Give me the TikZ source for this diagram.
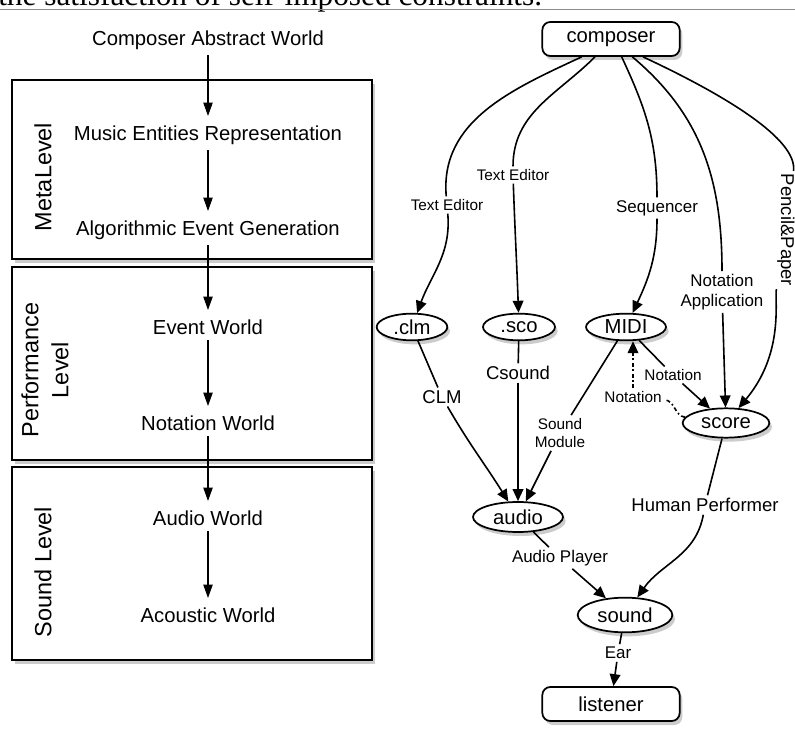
\documentclass[tikz,border=0pt]{standalone}
\usepackage{fontspec}
\setmainfont{Liberation Sans}
\newfontfamily\pagefont{Liberation Serif}
\usetikzlibrary{arrows.meta,shapes.geometric,shadows}

\tikzset{
  softshadow/.style={drop shadow={shadow xshift=2pt,shadow yshift=-3pt,opacity=.4}},
  world/.style={font=\fontsize{15.2}{18}\selectfont,inner xsep=0pt,inner ysep=4pt},
  flow/.style={line width=0.8pt,shorten >=3pt,-{Triangle[width=7pt,length=10pt]}},
  levelbox/.style={line width=1.5pt,fill=white,softshadow},
  levellabel/.style={font=\fontsize{17.6}{22.5}\selectfont,rotate=90,align=center},
  term/.style={draw,line width=1.3pt,rounded corners=6pt,fill=white,minimum width=103pt,
    minimum height=25.5pt,font=\fontsize{15.2}{18}\selectfont,softshadow},
  state/.style={ellipse,draw,line width=1.3pt,fill=white,inner sep=0.5pt,minimum height=20pt,
    font=\fontsize{15.2}{18}\selectfont,softshadow},
  lblS/.style={font=\fontsize{11.5}{14}\selectfont,inner sep=2pt,align=center},
  lblM/.style={font=\fontsize{12.7}{15}\selectfont,inner sep=2pt,align=center},
  lblL/.style={font=\fontsize{13.9}{16.5}\selectfont,inner sep=2pt,align=center},
  link/.style={line width=1.2pt},
  linkto/.style={link,-{Triangle[width=8pt,length=9pt]}}
}

\begin{document}
\begin{tikzpicture}[x=0.75pt,y=-0.75pt]
  \useasboundingbox (0,0) rectangle (795,737);
  \node[anchor=base west,inner sep=0pt,font=\pagefont\fontsize{23.5}{28}\selectfont] (pagetext) at (-2,6)
    {the satisfaction of self-imposed constraints.};
  \draw[black!45,line width=0.8pt] (0,9.5)--(795,9.5);

  \draw[levelbox] (12,80) rectangle (372,259);
  \draw[levelbox] (12,267) rectangle (372,460);
  \draw[levelbox] (12,467) rectangle (372,660);
  \node[levellabel] (meta) at (43,177) {MetaLevel};
  \node[levellabel] (perf) at (45,370) {Performance\\Level};
  \node[levellabel] (soundlvl) at (43,572) {Sound Level};

  \node[world] (caw) at (208,40) {Composer Abstract World};
  \node[world] (mer) at (208,135) {Music Entities Representation};
  \node[world] (aeg) at (208,230) {Algorithmic Event Generation};
  \node[world] (ew) at (208,327) {Event World};
  \node[world] (nw) at (208,423) {Notation World};
  \node[world] (aw) at (208,518) {Audio World};
  \node[world] (acw) at (208,615) {Acoustic World};
  \foreach \a/\b in {caw/mer,mer/aeg,aeg/ew,ew/nw,nw/aw,aw/acw}
    \draw[flow] (\a)--(\b);

  \node[term] (composer) at (611,39) {composer};
  \node[term] (listener) at (611,704) {listener};
  \node[state,minimum width=53pt] (clm) at (412,327) {.clm};
  \node[state,minimum width=54pt] (sco) at (519,327) {.sco};
  \node[state,minimum width=60pt] (midi) at (626,327) {MIDI};
  \node[state,minimum width=65pt,minimum height=22pt] (score) at (726,423) {score};
  \node[state,minimum width=67.5pt,minimum height=22.5pt] (audio) at (518,517) {audio};
  \node[state,minimum width=71pt,minimum height=26pt] (sound) at (625,615) {sound};

  \node[lblS] (te1) at (447,205) {Text Editor};
  \node[lblS] (te2) at (513,175) {Text Editor};
  \node[lblM] (seq) at (657,208) {Sequencer};
  \node[lblM] (napp) at (722,292) {Notation\\Application};
  \node[lblL,rotate=-90] (pp) at (786,230) {Pencil\&Paper};
  \node[lblL] (clmlbl) at (442,397) {CLM};
  \node[lblL] (csd) at (518,373) {Csound};
  \node[lblS] (smod) at (560,433) {Sound\\Module};
  \node[lblS] (not1) at (673,375) {Notation};
  \node[lblS] (not2) at (633,397) {Notation};
  \node[lblL] (hp) at (705,505) {Human Performer};
  \node[lblM] (ap) at (560,558) {Audio Player};
  \node[lblM] (ear) at (618,653) {Ear};

  \draw[link] ([xshift=-22pt]composer.south) to[out=-155,in=95] (te1);
  \draw[linkto] (te1) to[out=-85,in=70] (clm);
  \draw[link] ([xshift=-12pt]composer.south) to[out=-135,in=90] (te2);
  \draw[linkto] (te2) to[out=-88,in=92] (sco);
  \draw[link] ([xshift=8pt]composer.south) to[out=-65,in=90] (seq);
  \draw[linkto] (seq) to[out=-90,in=65] (midi);
  \draw[link] ([xshift=16pt]composer.south) to[out=-40,in=90] (napp);
  \draw[linkto] (napp)--(score);
  \draw[link] ([xshift=24pt]composer.south) to[out=-25,in=90] (pp);
  \draw[linkto] (pp) to[out=-90,in=50] (score);

  \draw[link] (clm)--(clmlbl);
  \draw[linkto] (clmlbl) to[out=-60,in=122] (audio);
  \draw[link] (sco)--(csd);
  \draw[linkto] (csd)--(audio);
  \draw[link] (midi)--(smod);
  \draw[linkto] (smod)--(audio);
  \draw[link] (midi)--(not1);
  \draw[linkto] (not1)--(score);
  \draw[link,dash dot] (score) to[out=172,in=-5] (not2);
  \draw[linkto,dash dot] (not2.north)--(not2.north|-midi.south);
  \draw[link] (score)--(hp);
  \draw[linkto] (hp) to[out=-100,in=55] (sound);
  \draw[link] (audio)--(ap);
  \draw[linkto] (ap)--(sound);
  \draw[link] (sound)--(ear);
  \draw[linkto] (ear)--(listener);
\end{tikzpicture}
\end{document}
